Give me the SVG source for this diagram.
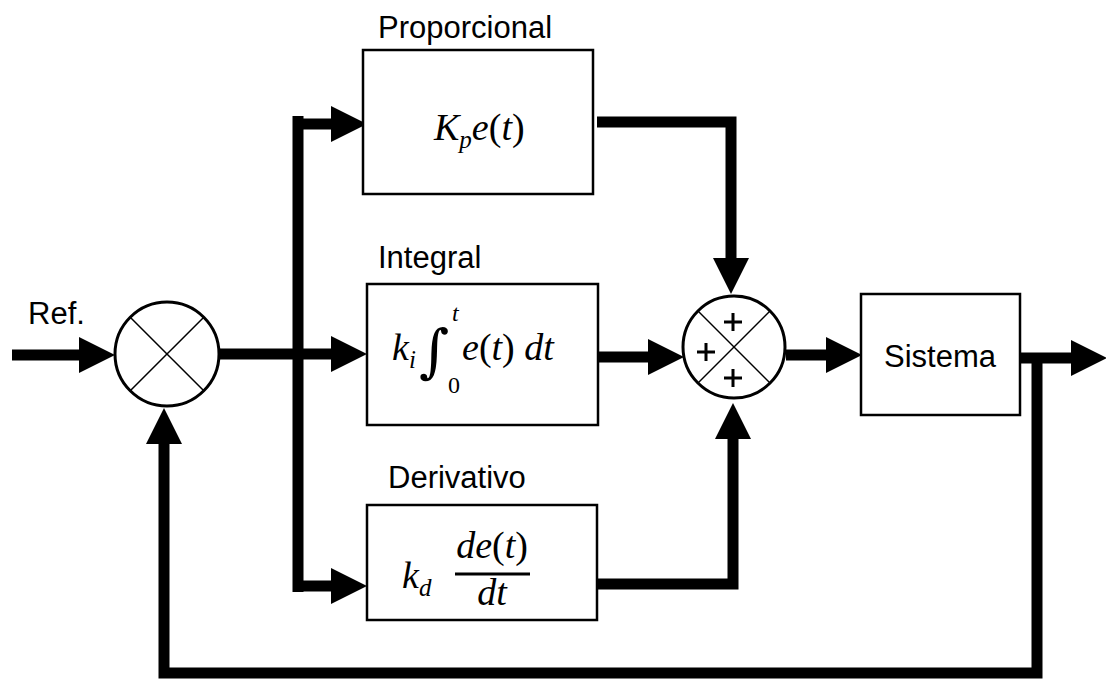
<svg xmlns="http://www.w3.org/2000/svg" width="1106" height="679" viewBox="0 0 1106 679">
<style>
.box{fill:#fff;stroke:#000;stroke-width:2.5}
.circ{fill:#fff;stroke:#000;stroke-width:3}
.x{stroke:#000;stroke-width:1.5}
.lbl{font-family:"Liberation Sans",Arial,sans-serif;font-size:31px;fill:#000}
.m{font-family:"Liberation Serif","DejaVu Serif",serif;font-style:italic;fill:#000}
.up{font-style:normal}
.w{fill:none;stroke:#000;stroke-width:11;stroke-linejoin:miter}
.plus{stroke:#000;stroke-width:3}
</style>
<defs>
<marker id="ah" markerUnits="userSpaceOnUse" markerWidth="36" markerHeight="36" viewBox="0 0 36 36" refX="0" refY="18" orient="auto">
<path d="M0,0 L36,18 L0,36 z" fill="#000"/>
</marker>
</defs>
<rect width="1106" height="679" fill="#fff"/>

<g id="connectors">
<path class="w" d="M12,355 H79" marker-end="url(#ah)"/>
<path class="w" d="M219,354 H331" marker-end="url(#ah)"/>
<path class="w" d="M298,116 V592"/>
<path class="w" d="M293,124 H331" marker-end="url(#ah)"/>
<path class="w" d="M293,586 H331" marker-end="url(#ah)"/>
<path class="w" d="M597,122 H731 V258" marker-end="url(#ah)"/>
<path class="w" d="M598,357 H648" marker-end="url(#ah)"/>
<path class="w" d="M597,584 H733 V439" marker-end="url(#ah)"/>
<path class="w" d="M786,355 H826" marker-end="url(#ah)"/>
<path class="w" d="M1020,358 H1071" marker-end="url(#ah)"/>
<path class="w" d="M1037,358 V673 H164 V444" marker-end="url(#ah)"/>
</g>

<g id="ref-label"><text class="lbl" x="28" y="324">Ref.</text></g>

<g id="sum1">
<circle class="circ" cx="167" cy="354" r="52"/>
<line class="x" x1="130.2" y1="317.2" x2="203.8" y2="390.8"/>
<line class="x" x1="203.8" y1="317.2" x2="130.2" y2="390.8"/>
</g>

<g id="proporcional">
<text class="lbl" x="378" y="38">Proporcional</text>
<rect class="box" x="363" y="50" width="230" height="144"/>
<text class="m" x="434" y="140" font-size="38">K<tspan font-size="25" dy="8">p</tspan><tspan dy="-8">e</tspan><tspan class="up">(</tspan>t<tspan class="up">)</tspan></text>
</g>

<g id="integral">
<text class="lbl" x="378" y="268">Integral</text>
<rect class="box" x="367" y="284" width="231" height="141"/>
<text class="m" x="392" y="360" font-size="38">k<tspan font-size="25" dy="8">i</tspan></text>
<text x="419" y="371" font-size="58" style="font-family:'DejaVu Serif',serif">∫</text>
<text x="448" y="393" font-size="24" style="font-family:'Liberation Serif',serif">0</text>
<text x="452" y="321" font-size="24" style="font-family:'Liberation Serif',serif;font-style:italic">t</text>
<text class="m" x="462" y="360" font-size="38">e<tspan class="up">(</tspan>t<tspan class="up">)</tspan> dt</text>
</g>

<g id="derivativo">
<text class="lbl" x="388" y="488">Derivativo</text>
<rect class="box" x="367" y="505" width="230" height="115"/>
<text class="m" x="402" y="588" font-size="38">k<tspan font-size="25" dy="8">d</tspan></text>
<text class="m" x="492" y="558" font-size="38" text-anchor="middle">de<tspan class="up">(</tspan>t<tspan class="up">)</tspan></text>
<line x1="455" y1="574" x2="530" y2="574" stroke="#000" stroke-width="3"/>
<text class="m" x="492" y="605" font-size="38" text-anchor="middle">dt</text>
</g>

<g id="sum2">
<circle class="circ" cx="734" cy="347" r="51"/>
<line class="x" x1="698" y1="311" x2="770" y2="383"/>
<line class="x" x1="770" y1="311" x2="698" y2="383"/>
<path class="plus" d="M724,322 H742 M733,313 V331"/>
<path class="plus" d="M697,352 H715 M706,343 V361"/>
<path class="plus" d="M724,378 H742 M733,369 V387"/>
</g>

<g id="sistema">
<rect class="box" x="861" y="294" width="159" height="121"/>
<text class="lbl" x="940" y="367" text-anchor="middle">Sistema</text>
</g>
</svg>
